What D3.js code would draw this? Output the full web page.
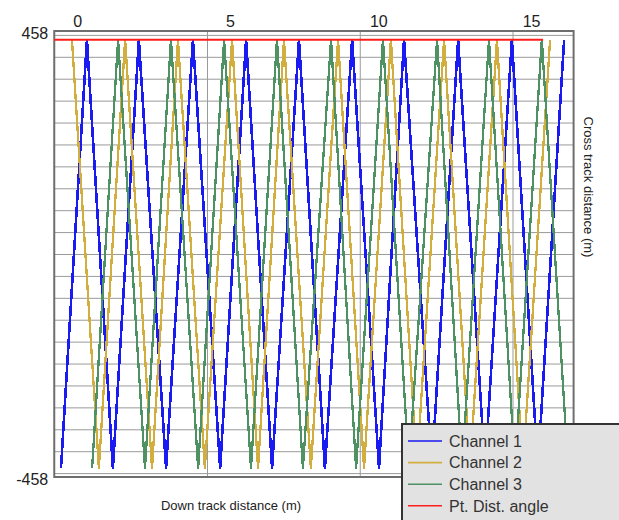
<!DOCTYPE html>
<html>
<head>
<meta charset="utf-8">
<script src="https://cdn.jsdelivr.net/npm/d3@7"></script>
<style>
  html, body { margin: 0; padding: 0; background: #ffffff; overflow: hidden; }
  svg { display: block; font-family: "Liberation Sans", Arial, sans-serif; }
</style>
</head>
<body>
<svg id="chart" width="619" height="520"></svg>
<script>
// Down-track positions (m) of each channel's turning points, alternating swath edges
const ch1X = [0.22, 1.07, 1.92, 2.77, 3.66, 4.54, 5.43, 6.28, 7.13, 8.01, 8.86, 9.75, 10.63, 11.45, 12.36, 13.22, 14.10, 14.98, 15.83, 16.69];
const ch1Y = [-440, 440, -440, 440, -440, 440, -440, 440, -440, 440, -440, 440, -440, 440, -440, 440, -440, 440, -440, 440];

const ch2X = [0.58, 1.46, 2.32, 3.20, 4.05, 4.93, 5.82, 6.67, 7.52, 8.40, 9.29, 10.14, 11.02, 11.87, 12.76, 13.61, 14.49, 15.34, 16.23];
const ch2Y = [440, -440, 440, -440, 440, -440, 440, -440, 440, -440, 440, -440, 440, -440, 440, -440, 440, -440, 440];

const ch3X = [1.24, 2.09, 2.97, 3.82, 4.71, 5.56, 6.44, 7.29, 8.14, 9.06, 9.88, 10.76, 11.61, 12.53, 13.35, 14.23, 15.08, 15.96, 16.82];
const ch3Y = [-440, 440, -440, 440, -440, 440, -440, 440, -440, 440, -440, 440, -440, 440, -440, 440, -440, 440, -440];

// Point distance angle reference line
const ptX = [0, 16];
const ptY = [440, 440];

const seriesNames = ["Channel 1", "Channel 2", "Channel 3", "Pt. Dist. angle"];
const seriesColors = ["#1a1af2", "#d2ae3e", "#4e9163", "#ff1e1e"];

const xTicks = [0, 5, 10, 15];
const yTicks = [-458, 458];
const xGrid = [5, 10, 15];
const yGrid = [-450, -405, -360, -315, -270, -225, -180, -135, -90, -45, 0, 45, 90, 135, 180, 225, 270, 315, 360, 405, 450];

const svg = d3.select("#chart");

const x = d3.scaleLinear().domain([0, 17]).range([54.25, 573.6]);
const y = d3.scaleLinear().domain([-458, 458]).range([477, 31]);

const plotL = x(0), plotR = x(17), plotT = y(458), plotB = y(-458);

// grid
const grid = svg.append("g");
grid.append("g")
  .attr("transform", `translate(${plotL},0)`)
  .call(d3.axisLeft(y).tickValues(yGrid).tickSize(-(plotR - plotL)).tickFormat(""))
  .call(g => g.select(".domain").remove())
  .call(g => g.selectAll("line").attr("stroke", "#9a9a9a").attr("stroke-width", 1));
grid.append("g")
  .attr("transform", `translate(0,${plotB})`)
  .call(d3.axisBottom(x).tickValues(xGrid).tickSize(-(plotB - plotT)).tickFormat(""))
  .call(g => g.select(".domain").remove())
  .call(g => g.selectAll("line").attr("stroke", "#9a9a9a").attr("stroke-width", 1));

// frame
svg.append("rect")
  .attr("x", plotL).attr("y", plotT)
  .attr("width", plotR - plotL).attr("height", plotB - plotT)
  .attr("fill", "none").attr("stroke", "#6e6e6e").attr("stroke-width", 2);

// channel traces (aliased so the near-vertical sweeps show their sample steps)
const toPts = (xs, ys) => xs.map((v, i) => ({ x: v, y: ys[i] }));
const line = d3.line().x(d => x(d.x)).y(d => y(d.y));
const traces = [
  { pts: toPts(ch1X, ch1Y), color: seriesColors[0], w: 2.6 },
  { pts: toPts(ch2X, ch2Y), color: seriesColors[1], w: 2.3 },
  { pts: toPts(ch3X, ch3Y), color: seriesColors[2], w: 2.3 },
];
svg.append("g").selectAll("path")
  .data(traces)
  .join("path")
  .attr("d", d => line(d.pts))
  .attr("fill", "none")
  .attr("stroke", d => d.color)
  .attr("stroke-width", d => d.w)
  .attr("stroke-linejoin", "round")
  .attr("shape-rendering", "crispEdges");

svg.append("path")
  .attr("d", line(toPts(ptX, ptY)))
  .attr("fill", "none")
  .attr("stroke", seriesColors[3])
  .attr("stroke-width", 2.2);

// top axis labels
svg.append("g")
  .attr("transform", `translate(0,${plotT})`)
  .call(d3.axisTop(x).tickValues(xTicks).tickSize(0).tickFormat(d => String(d)))
  .call(g => g.select(".domain").remove())
  .call(g => g.selectAll("text")
    .attr("x", 27.5).attr("y", -4).attr("dy", 0)
    .attr("text-anchor", "end")
    .attr("font-size", 16).attr("fill", "#222")
    .attr("font-family", "Liberation Sans, Arial, sans-serif"));

// left axis labels
svg.append("g")
  .attr("transform", `translate(${plotL - 6},0)`)
  .call(d3.axisLeft(y).tickValues(yTicks).tickSize(0).tickPadding(0).tickFormat(d => String(d)))
  .call(g => g.select(".domain").remove())
  .call(g => g.selectAll("text")
    .attr("dy", "0.36em").attr("y", 1.5)
    .attr("font-size", 16).attr("fill", "#222")
    .attr("font-family", "Liberation Sans, Arial, sans-serif"));

// axis titles
svg.append("text")
  .attr("x", 231).attr("y", 510)
  .attr("text-anchor", "middle")
  .attr("font-size", 13).attr("fill", "#222")
  .text("Down track distance (m)");

svg.append("text")
  .attr("transform", "translate(584,187) rotate(90)")
  .attr("text-anchor", "middle")
  .attr("font-size", 13).attr("fill", "#222")
  .text("Cross track distance (m)");

// legend
const lg = svg.append("g").attr("transform", "translate(402,424)");
lg.append("rect")
  .attr("x", 0).attr("y", 0).attr("width", 240).attr("height", 120)
  .attr("fill", "#e2e2e2").attr("stroke", "#333").attr("stroke-width", 2);
const rows = lg.selectAll("g.row")
  .data(seriesNames)
  .join("g")
  .attr("class", "row")
  .attr("transform", (d, i) => `translate(0,${17 + i * 21.6})`);
rows.append("line")
  .attr("x1", 6).attr("x2", 40)
  .attr("stroke", (d, i) => seriesColors[i])
  .attr("stroke-width", 1.6);
rows.append("text")
  .attr("x", 47).attr("dy", "0.36em")
  .attr("font-size", 16).attr("fill", "#333")
  .text(d => d);
</script>
</body>
</html>
